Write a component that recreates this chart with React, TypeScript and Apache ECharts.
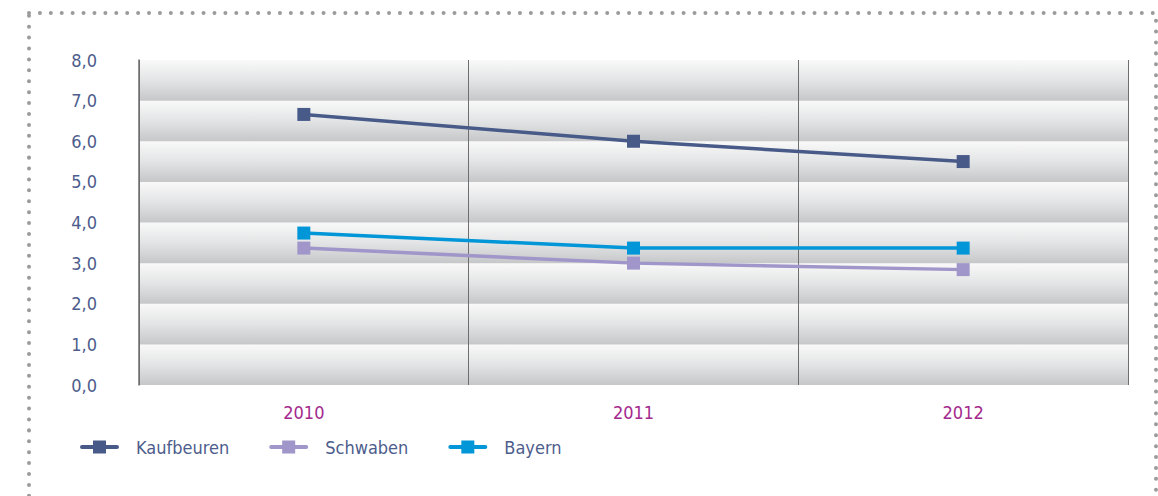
import React, { useEffect, useRef } from "react";
import * as echarts from "echarts";

const categories = ["2010", "2011", "2012"];
const kaufbeuren = [6.66, 6.0, 5.5];
const schwaben = [3.37, 3.0, 2.84];
const bayern = [3.74, 3.37, 3.37];
const seriesNames = ["Kaufbeuren", "Schwaben", "Bayern"];
const seriesColors = ["#475a88", "#a096c9", "#0096d8"];

const FONT = "'Liberation Sans Narrow', 'DejaVu Sans Condensed', 'Roboto', sans-serif";
const LEGEND_ICON = "path://M2,4.5 L37,4.5 A2,2 0 0 1 37,8.5 L2,8.5 A2,2 0 0 1 2,4.5 Z M13,0 L26,0 L26,13 L13,13 Z";

export default function App() {
  const ref = useRef<HTMLDivElement>(null);
  useEffect(() => {
    document.body.style.margin = "0";
    const chart = echarts.init(ref.current!, null, { renderer: "svg" });
    const band = new echarts.graphic.LinearGradient(0, 0, 0, 1, [
      { offset: 0, color: "#f9f9f9" },
      { offset: 0.5, color: "#e3e4e5" },
      { offset: 1, color: "#c6c7c9" },
    ]);
    const dataSets = [kaufbeuren, schwaben, bayern];
    chart.setOption({
      animation: false,
      backgroundColor: "#ffffff",
      grid: { left: 139, right: 30, top: 60, bottom: 111 },
      graphic: [
        {
          type: "rect",
          shape: { x: 29, y: 13, width: 1127, height: 620 },
          style: {
            fill: "none",
            stroke: "#9b9b9b",
            lineWidth: 4,
            lineDash: [0.01, 10.9],
            lineCap: "round",
          },
          silent: true,
        },
      ],
      legend: {
        left: 75,
        top: 433,
        itemWidth: 39,
        itemHeight: 14,
        itemGap: 40,
        icon: LEGEND_ICON,
        data: seriesNames,
        textStyle: {
          fontFamily: FONT,
          fontSize: 18,
          color: "#4d5d8c",
          padding: [0, 0, 0, 12],
        },
      },
      xAxis: {
        type: "category",
        data: categories,
        boundaryGap: true,
        axisLine: { show: false },
        axisTick: { show: false },
        axisLabel: {
          margin: 18,
          fontFamily: FONT,
          fontSize: 18,
          color: "#a3298d",
        },
        splitLine: { show: true, lineStyle: { color: "#6e6e6e", width: 1 } },
      },
      yAxis: {
        type: "value",
        min: 0,
        max: 8,
        interval: 1,
        axisLine: { show: true, lineStyle: { color: "#6e6e6e", width: 1.5 } },
        axisTick: { show: false },
        axisLabel: {
          margin: 42,
          fontFamily: FONT,
          fontSize: 18,
          color: "#4d5d8c",
          formatter: (v: number) => v.toFixed(1).replace(".", ","),
        },
        splitLine: { show: false },
        splitArea: { show: true, areaStyle: { color: [band] } },
      },
      series: seriesNames.map((name, i) => ({
        name,
        type: "line",
        data: dataSets[i],
        symbol: "rect",
        symbolSize: 13,
        lineStyle: { color: seriesColors[i], width: 3.5 },
        itemStyle: { color: seriesColors[i] },
        z: 3 - i + 2,
      })),
    });
    return () => chart.dispose();
  }, []);
  return (
    <div
      ref={ref}
      style={{ position: "absolute", left: 0, top: 0, width: 1158, height: 496 }}
    />
  );
}
